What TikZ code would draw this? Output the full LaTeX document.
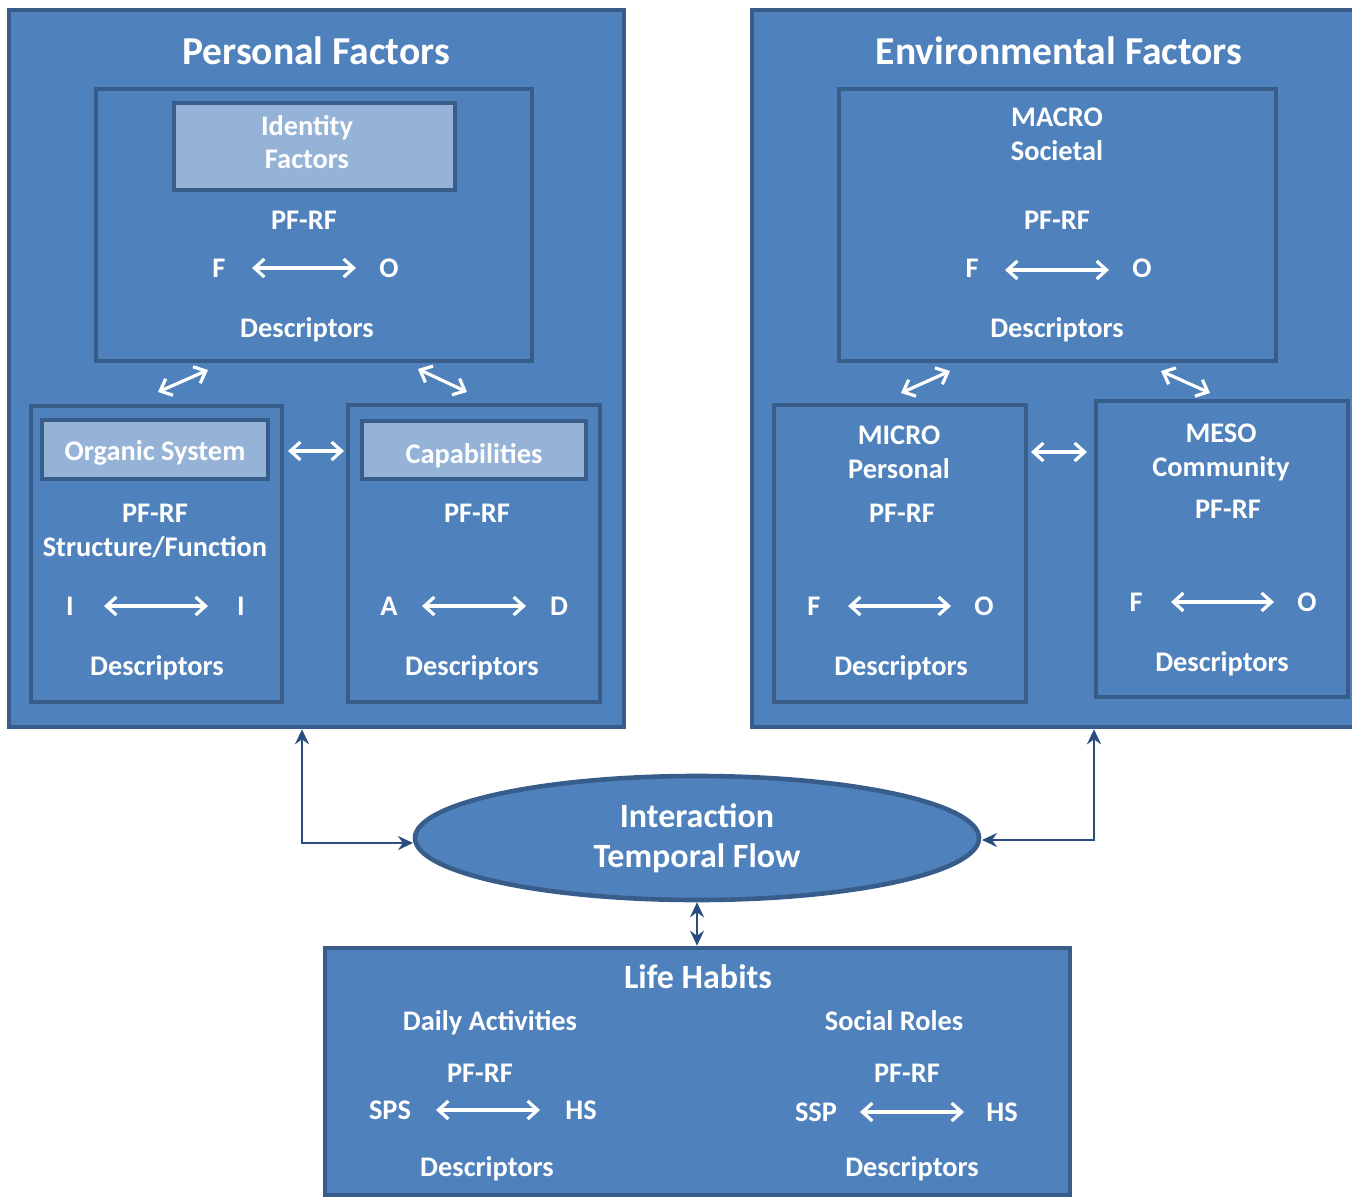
\documentclass[tikz,border=0pt]{standalone}
\usepackage{fontspec}
\setmainfont{Carlito}
\usetikzlibrary{arrows.meta,fit,shapes.geometric}
\definecolor{boxfill}{HTML}{4F81BD}
\definecolor{boxline}{HTML}{385D8A}
\definecolor{lightfill}{HTML}{95B3D7}
\definecolor{conn}{HTML}{2A4D80}
\tikzset{
  box/.style={draw=boxline, fill=boxfill, line width=2.3pt, inner sep=0pt},
  lbox/.style={draw=boxline, fill=lightfill, line width=2.3pt, inner sep=0pt},
  txt/.style={text=white, font=\bfseries\fontsize{14.2}{16}\selectfont, inner sep=0pt, text height=1.5ex, text depth=.3ex, yshift=-2pt},
  ttl/.style={text=white, font=\bfseries\fontsize{19.8}{23}\selectfont, inner sep=0pt, text height=1.5ex, text depth=.3ex, yshift=-3.2pt},
  mid/.style={text=white, font=\bfseries\fontsize{17}{20}\selectfont, inner sep=0pt, text height=1.5ex, text depth=.3ex, yshift=-2.5pt},
  warrow/.style={draw=white, line width=1.6pt, {Straight Barb[length=5pt,width=9pt]}-{Straight Barb[length=5pt,width=9pt]}},
  carrow/.style={draw=conn, line width=1.2pt, {Stealth[length=7.5pt,width=7pt,inset=2.5pt]}-{Stealth[length=7.5pt,width=7pt,inset=2.5pt]}},
}
\begin{document}
\begin{tikzpicture}[x=0.5pt,y=-0.5pt]
\useasboundingbox (0,0) rectangle (1352,1197);
% ---------- Personal Factors ----------
\node[box, fit={(9,10) (624,727)}] (pf) {};
\node[ttl] (pft) at (316,52) {Personal Factors};
\node[box, fit={(96,89) (532,361)}] (idb) {};
\node[lbox, fit={(174,103) (455,190)}] (idl) {};
\node[txt] (idt1) at (307,126) {Identity};
\node[txt] (idt2) at (307,159) {Factors};
\node[txt] (idp) at (304,220) {PF-RF};
\node[txt] (idf) at (219,268) {F};
\node[txt] (ido) at (389,268) {O};
\coordinate (ida1) at (252,268); \coordinate (ida2) at (356,268);
\draw[warrow] (ida1) -- (ida2);
\node[txt] (idd) at (307,328) {Descriptors};
\coordinate (d1a) at (158,392); \coordinate (d1b) at (208,370);
\draw[warrow] (d1a) -- (d1b);
\coordinate (d2a) at (418,369); \coordinate (d2b) at (467,392);
\draw[warrow] (d2a) -- (d2b);
% Organic System
\node[box, fit={(31,406) (282,702)}] (osb) {};
\node[lbox, fit={(42,420) (268,479)}] (osl) {};
\node[txt] (ost) at (155,451) {Organic System};
\node[txt] (osp) at (155,513) {PF-RF};
\node[txt] (oss) at (155,547) {Structure/Function};
\node[txt] (osi1) at (70,606) {I};
\node[txt] (osi2) at (241,606) {I};
\coordinate (osa1) at (104,606); \coordinate (osa2) at (208,606);
\draw[warrow] (osa1) -- (osa2);
\node[txt] (osd) at (157,666) {Descriptors};
\coordinate (h1a) at (288,451); \coordinate (h1b) at (344,451);
\draw[warrow] (h1a) -- (h1b);
% Capabilities
\node[box, fit={(348,405) (600,702)}] (cab) {};
\node[lbox, fit={(362,421) (586,479)}] (cal) {};
\node[txt] (cat) at (474,454) {Capabilities};
\node[txt] (cap) at (477,513) {PF-RF};
\node[txt] (caa) at (389,606) {A};
\node[txt] (cad) at (559,606) {D};
\coordinate (caa1) at (422,606); \coordinate (caa2) at (526,606);
\draw[warrow] (caa1) -- (caa2);
\node[txt] (cadd) at (472,666) {Descriptors};
% ---------- Environmental Factors ----------
\node[box, fit={(752,10) (1375,727)}] (ef) {};
\node[ttl] (eft) at (1059,52) {Environmental Factors};
\node[box, fit={(839,89) (1276,361)}] (mab) {};
\node[txt] (mat1) at (1057,117) {MACRO};
\node[txt] (mat2) at (1057,151) {Societal};
\node[txt] (map) at (1057,220) {PF-RF};
\node[txt] (maf) at (972,268) {F};
\node[txt] (mao) at (1142,268) {O};
\coordinate (maa1) at (1005,270); \coordinate (maa2) at (1109,270);
\draw[warrow] (maa1) -- (maa2);
\node[txt] (mad) at (1057,328) {Descriptors};
\coordinate (e1a) at (901,393); \coordinate (e1b) at (950,371);
\draw[warrow] (e1a) -- (e1b);
\coordinate (e2a) at (1161,371); \coordinate (e2b) at (1210,393);
\draw[warrow] (e2a) -- (e2b);
% MICRO
\node[box, fit={(774,405) (1026,702)}] (mib) {};
\node[txt] (mit1) at (899,435) {MICRO};
\node[txt] (mit2) at (899,469) {Personal};
\node[txt] (mip) at (902,513) {PF-RF};
\node[txt] (mif) at (814,606) {F};
\node[txt] (mio) at (984,606) {O};
\coordinate (mia1) at (848,606); \coordinate (mia2) at (951,606);
\draw[warrow] (mia1) -- (mia2);
\node[txt] (mid) at (901,666) {Descriptors};
\coordinate (h2a) at (1031,452); \coordinate (h2b) at (1087,452);
\draw[warrow] (h2a) -- (h2b);
% MESO
\node[box, fit={(1096,401) (1348,697)}] (meb) {};
\node[txt] (met1) at (1221,433) {MESO};
\node[txt] (met2) at (1221,467) {Community};
\node[txt] (mep) at (1228,509) {PF-RF};
\node[txt] (mef) at (1136,602) {F};
\node[txt] (meo) at (1307,602) {O};
\coordinate (mea1) at (1171,602); \coordinate (mea2) at (1274,602);
\draw[warrow] (mea1) -- (mea2);
\node[txt] (med) at (1222,662) {Descriptors};
% ---------- Interaction ----------
\node[draw=boxline, fill=boxfill, line width=2.3pt, ellipse, inner sep=0pt,
      minimum width=282pt, minimum height=62pt] (int) at (697,838) {};
\node[mid] (int1) at (697,817) {Interaction};
\node[mid] (int2) at (697,857) {Temporal Flow};
\coordinate (intL) at (413,843);
\coordinate (intR) at (982,840);
% ---------- Life Habits ----------
\node[box, fit={(325,948) (1070,1195)}] (lh) {};
\node[mid] (lht) at (698,978) {Life Habits};
\node[txt] (lhda) at (490,1021) {Daily Activities};
\node[txt] (lhsr) at (894,1021) {Social Roles};
\node[txt] (lhp1) at (480,1073) {PF-RF};
\node[txt] (lhsps) at (390,1110) {SPS};
\node[txt] (lhhs1) at (581,1110) {HS};
\coordinate (lha1) at (436,1110); \coordinate (lha2) at (540,1110);
\draw[warrow] (lha1) -- (lha2);
\node[txt] (lhp2) at (907,1073) {PF-RF};
\node[txt] (lhssp) at (816,1112) {SSP};
\node[txt] (lhhs2) at (1002,1112) {HS};
\coordinate (lhb1) at (860,1112); \coordinate (lhb2) at (964,1112);
\draw[warrow] (lhb1) -- (lhb2);
\node[txt] (lhd1) at (487,1167) {Descriptors};
\node[txt] (lhd2) at (912,1167) {Descriptors};
% ---------- Connectors ----------
\draw[carrow] (pf.south -| 302,0) |- (intL);
\draw[carrow] (ef.south -| 1094,0) |- (intR);
\draw[carrow] (int.south) -- (lh.north -| int.south);
\end{tikzpicture}
\end{document}
